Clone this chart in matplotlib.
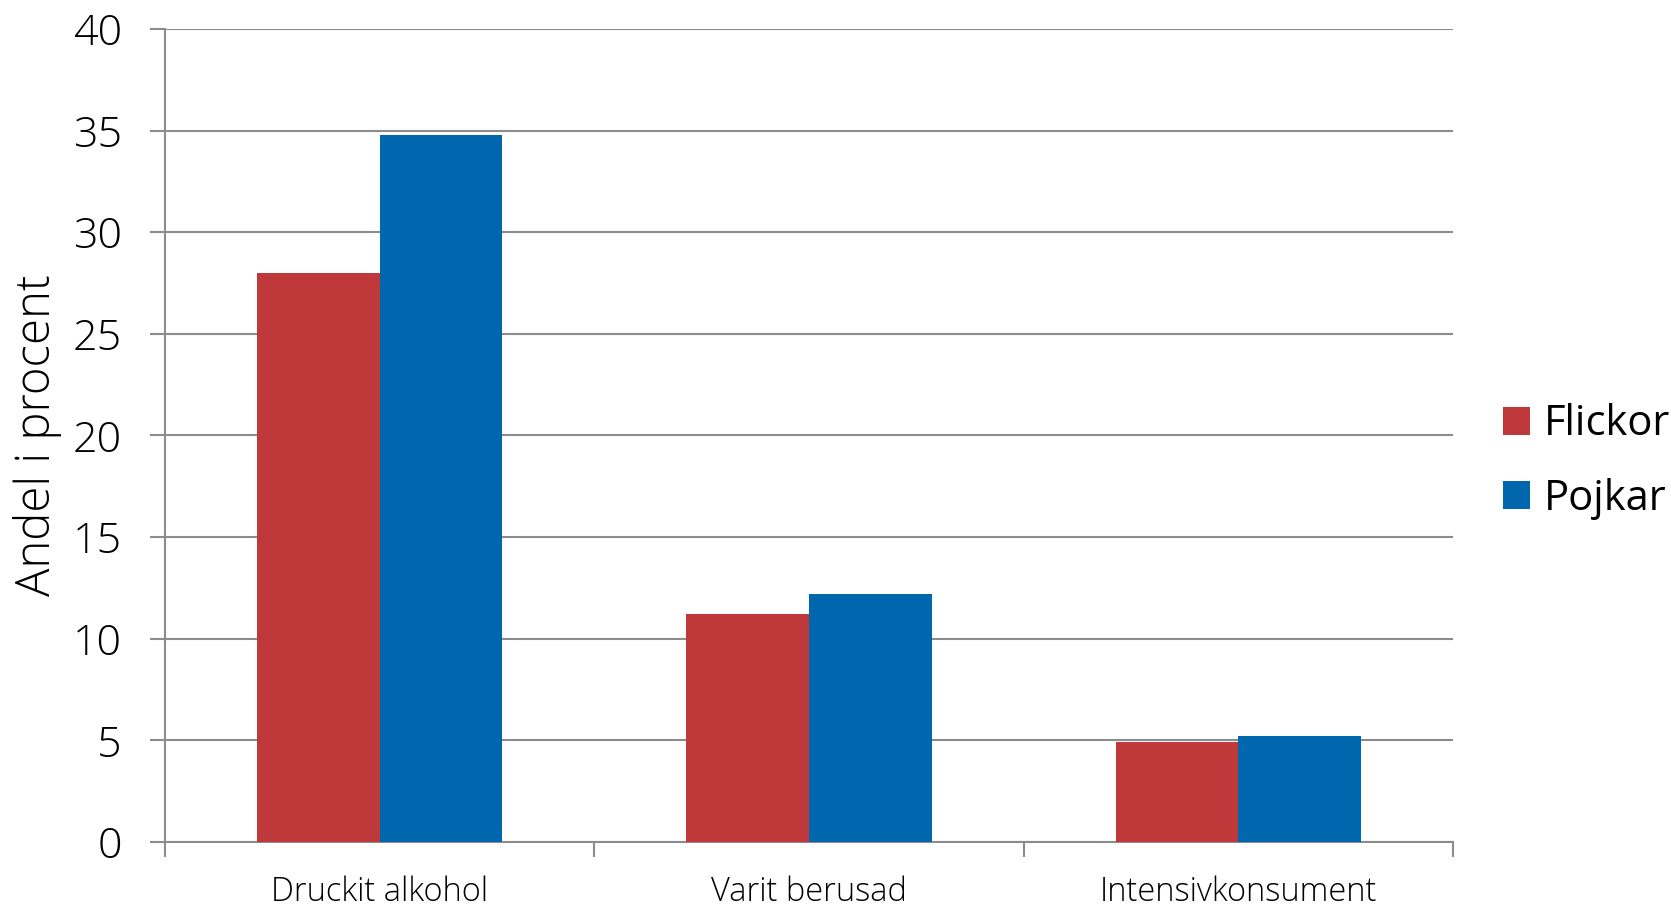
import matplotlib
matplotlib.use("Agg")
import matplotlib.pyplot as plt
import numpy as np

plt.rcParams['font.family'] = ['Open Sans', 'DejaVu Sans']

categories = ['Druckit alkohol', 'Varit berusad', 'Intensivkonsument']
flickor = [28.0, 11.2, 4.9]
pojkar = [34.8, 12.2, 5.2]
series_names = ['Flickor', 'Pojkar']
yticks = [0, 5, 10, 15, 20, 25, 30, 35, 40]

red = '#C0393A'
blue = '#0066AE'
grid_col = '#8C8C8C'

fig = plt.figure(figsize=(16.71, 9.10), dpi=100)
ax = fig.add_axes([165 / 1671, 1 - 842 / 910, (1453 - 165) / 1671, (842 - 29) / 910])

x = np.arange(len(categories))
w = 0.2857
ax.bar(x - w / 2, flickor, w, color=red, label=series_names[0], zorder=3)
ax.bar(x + w / 2, pojkar, w, color=blue, label=series_names[1], zorder=3)

ax.set_xlim(-0.5, len(categories) - 0.5)
ax.set_ylim(0, 40)
ax.set_yticks(yticks)
ax.set_yticklabels([str(v) for v in yticks], fontsize=31, fontweight='light')
ax.yaxis.grid(True, color=grid_col, linewidth=1.5, zorder=0)
ax.set_axisbelow(True)

# category labels centred, tick marks at the boundaries
ax.set_xticks(x)
ax.set_xticklabels(categories, fontsize=23.5, fontweight='light')
ax.tick_params(axis='x', which='major', length=0, pad=24)
ax.set_xticks(np.arange(-0.5, len(categories)), minor=True)
ax.tick_params(axis='x', which='minor', length=11, width=1.5, color=grid_col)
ax.tick_params(axis='y', length=11, width=1.5, color=grid_col, pad=20)

for s in ['top', 'right']:
    ax.spines[s].set_visible(False)
for s in ['left', 'bottom']:
    ax.spines[s].set_color(grid_col)
    ax.spines[s].set_linewidth(1.5)

ax.set_ylabel('Andel i procent', fontsize=34, fontweight='light', labelpad=8)

ax.legend(loc='center left', bbox_to_anchor=(1.026, 0.468),
          fontsize=30, frameon=False, handlelength=0.65, handleheight=0.65,
          handletextpad=0.33, labelspacing=0.78, borderaxespad=0)

fig.savefig('out.png', dpi=100)
